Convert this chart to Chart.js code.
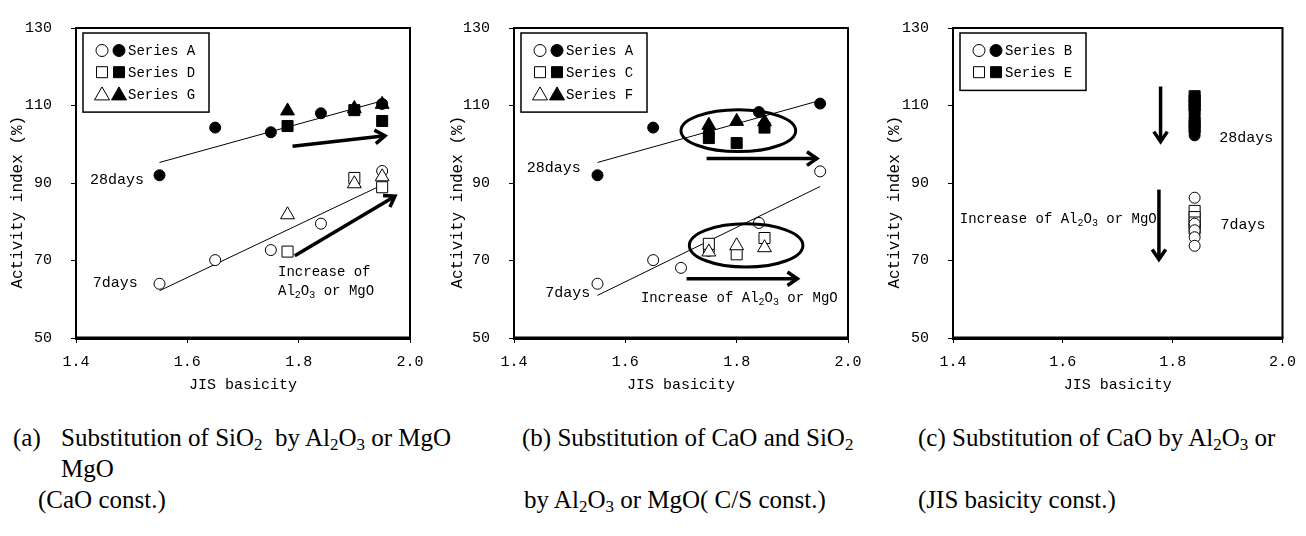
<!DOCTYPE html>
<html>
<head>
<meta charset="utf-8">
<script src="https://cdn.jsdelivr.net/npm/chart.js@4.4.1/dist/chart.umd.min.js"></script>
<style>
  body { margin: 0; background: #fff; }
  #page { position: relative; width: 1306px; height: 536px; overflow: hidden; background: #fff; }
  canvas { position: absolute; top: 0; }
  .cap { position: absolute; font-family: "Liberation Serif", serif; font-size: 25px; color: #000;
         white-space: pre; line-height: 31px; }
  .cap sub { font-size: 17px; vertical-align: -4px; line-height: 0; }
</style>
</head>
<body>
<div id="page">
  <canvas id="chartA" width="440" height="400" style="left:0px"></canvas>
  <canvas id="chartB" width="440" height="400" style="left:440px"></canvas>
  <canvas id="chartC" width="429" height="400" style="left:877px"></canvas>

  <div class="cap" style="left:13px;top:422px">(a)</div>
  <div class="cap" style="left:61px;top:422px">Substitution of SiO<sub>2</sub>  by Al<sub>2</sub>O<sub>3</sub> or MgO</div>
  <div class="cap" style="left:61px;top:453px">MgO</div>
  <div class="cap" style="left:38px;top:484px">(CaO const.)</div>

  <div class="cap" style="left:522px;top:422px">(b) Substitution of CaO and SiO<sub>2</sub></div>
  <div class="cap" style="left:524px;top:484px">by Al<sub>2</sub>O<sub>3</sub> or MgO( C/S const.)</div>

  <div class="cap" style="left:918px;top:422px">(c) Substitution of CaO by Al<sub>2</sub>O<sub>3</sub> or</div>
  <div class="cap" style="left:918px;top:484px">(JIS basicity const.)</div>
</div>

<script>
// ---------- data ----------
// (a) substitution of SiO2
const aSeriesA_x   = [1.55, 1.65, 1.75, 1.84, 1.95];
const aSeriesA_7d  = [64.0, 70.1, 72.7, 79.5, 93.1];
const aSeriesA_28d = [92.0, 104.3, 103.1, 108.0, 110.4];
const aSeriesD_x   = [1.78, 1.90, 1.95];
const aSeriesD_7d  = [72.3, 91.3, 88.9];
const aSeriesD_28d = [104.7, 108.8, 106.0];
const aSeriesG_x   = [1.78, 1.90, 1.95];
const aSeriesG_7d  = [81.8, 89.8, 91.6];
const aSeriesG_28d = [108.6, 109.2, 110.3];
const aTrendX   = [1.55, 1.95];
const aTrend7d  = [62.2, 89.5];
const aTrend28d = [95.3, 111.2];

// (b) substitution of CaO and SiO2
const bSeriesA_x   = [1.55, 1.65, 1.70, 1.75, 1.84, 1.95];
const bSeriesA_7d  = [64.0, 70.1, 68.1, 72.5, 79.7, 93.0];
const bSeriesA_28d = [92.0, 104.3, null, 103.0, 108.3, 110.5];
const bSeriesC_x   = [1.75, 1.80, 1.85];
const bSeriesC_7d  = [74.3, 71.6, 75.8];
const bSeriesC_28d = [101.6, 100.3, 104.3];
const bSeriesF_x   = [1.75, 1.80, 1.85];
const bSeriesF_7d  = [72.2, 73.8, 73.3];
const bSeriesF_28d = [104.9, 105.9, 105.8];
const bTrendX   = [1.55, 1.95];
const bTrend7d  = [61.0, 89.1];
const bTrend28d = [95.3, 111.3];

// (c) substitution of CaO (basicity constant)
const cBasicity    = 1.84;
const cSeriesB_7d  = [86.2, 79.5, 77.8, 76.0, 73.8];
const cSeriesE_7d  = [82.8, 81.2, 79.8, 78.2];
const cSeriesB_28d = [107.0, 103.5, 102.3, 106.0];
const cSeriesE_28d = [112.4, 111.3, 110.0, 108.8, 105.5, 104.2];

// annotations (data coordinates)
const aLabels = [
  { t: '28days', x: 1.425, y: 90.0, size: 15 },
  { t: '7days', x: 1.43, y: 63.5, size: 15 },
  { t: 'Increase of', x: 1.763, y: 66.2, size: 14 },
  { t: 'Al_2O_3 or MgO', x: 1.763, y: 61.2, size: 14 }
];
const bLabels = [
  { t: '28days', x: 1.423, y: 93.1, size: 15 },
  { t: '7days', x: 1.456, y: 60.8, size: 15 },
  { t: 'Increase of Al_2O_3 or MgO', x: 1.628, y: 59.4, size: 14 }
];
const cLabels = [
  { t: '28days', x: 1.885, y: 100.8, size: 15 },
  { t: '7days', x: 1.887, y: 78.5, size: 15 },
  { t: 'Increase of Al_2O_3 or MgO', x: 1.4125, y: 79.8, size: 14 }
];
const aArrows = [[1.789, 99.5, 1.955, 102.2], [1.793, 71.2, 1.973, 86.6]];
const bArrows = [[1.746, 96.3, 1.944, 96.3], [1.71, 65.3, 1.909, 65.3]];
const cArrows = [[1.778, 114.9, 1.778, 100.7], [1.775, 88.3, 1.775, 70.3]];
const bEllipses = [[1.803, 103.5, 0.103, 5.4], [1.817, 73.9, 0.102, 5.6]];

const aLegend = [['circle', 'Series A'], ['rect', 'Series D'], ['triangle', 'Series G']];
const bLegend = [['circle', 'Series A'], ['rect', 'Series C'], ['triangle', 'Series F']];
const cLegend = [['circle', 'Series B'], ['rect', 'Series E']];

const FONT = '"Liberation Mono", monospace';

function pts(xs, ys) {
  const xv = Array.isArray(xs) ? xs : ys.map(() => xs);
  return ys.map((y, i) => ({ x: xv[i], y: y }));
}

function marks(label, style, xs, ys, filled) {
  const r = style === 'circle' ? 5.5 : (style === 'rect' ? 7.8 : 8);
  return {
    label: label, data: pts(xs, ys), pointStyle: style, pointRadius: r,
    backgroundColor: filled ? '#000' : '#fff', borderColor: '#000',
    pointBorderWidth: 1, showLine: false, order: 1
  };
}

function trend(xs, ys) {
  return {
    label: 'trend', data: pts(xs, ys), showLine: true, pointRadius: 0,
    borderColor: '#000', borderWidth: 1, order: 2
  };
}

function drawRich(ctx, str, x, y, size) {
  // "_3" marks a subscript digit
  let cx = x;
  y -= 3;
  str.split(/(_\d)/).forEach(p => {
    if (!p) return;
    if (p[0] === '_') {
      ctx.font = Math.round(size * 0.72) + 'px ' + FONT;
      ctx.fillText(p[1], cx, y + 4);
      cx += ctx.measureText(p[1]).width;
    } else {
      ctx.font = size + 'px ' + FONT;
      ctx.fillText(p, cx, y);
      cx += ctx.measureText(p).width;
    }
  });
}

function legendMark(ctx, style, x, y, filled) {
  ctx.beginPath();
  if (style === 'circle') ctx.arc(x, y, 6, 0, Math.PI * 2);
  else if (style === 'rect') ctx.rect(x - 5.5, y - 5.5, 11, 11);
  else { ctx.moveTo(x, y - 7); ctx.lineTo(x + 7.5, y + 6); ctx.lineTo(x - 7.5, y + 6); ctx.closePath(); }
  ctx.fillStyle = filled ? '#000' : '#fff';
  ctx.fill();
  ctx.lineWidth = 1;
  ctx.strokeStyle = '#000';
  ctx.stroke();
}

// frame, arrows, ellipses, notes and legend box
const extras = {
  id: 'extras',
  afterDraw(chart, args, opts) {
    const ctx = chart.ctx, a = chart.chartArea;
    const xs = chart.scales.x, ys = chart.scales.y;
    ctx.save();
    ctx.strokeStyle = '#000';
    ctx.lineWidth = 2;
    ctx.beginPath();
    ctx.moveTo(a.left, a.top); ctx.lineTo(a.right, a.top); ctx.lineTo(a.right, a.bottom);
    ctx.stroke();
    ctx.lineWidth = 3;
    ctx.beginPath(); ctx.moveTo(a.left, a.bottom); ctx.lineTo(a.right + 1, a.bottom); ctx.stroke();

    (opts.ellipses || []).forEach(e => {
      const cx = xs.getPixelForValue(e[0]), cy = ys.getPixelForValue(e[1]);
      const rx = Math.abs(xs.getPixelForValue(e[0] + e[2]) - cx);
      const ry = Math.abs(ys.getPixelForValue(e[1] + e[3]) - cy);
      ctx.lineWidth = 3;
      ctx.beginPath(); ctx.ellipse(cx, cy, rx, ry, 0, 0, Math.PI * 2); ctx.stroke();
    });

    (opts.arrows || []).forEach(ar => {
      const x1 = xs.getPixelForValue(ar[0]), y1 = ys.getPixelForValue(ar[1]);
      const x2 = xs.getPixelForValue(ar[2]), y2 = ys.getPixelForValue(ar[3]);
      const ang = Math.atan2(y2 - y1, x2 - x1), h = 12;
      ctx.lineWidth = 3.5;
      ctx.lineCap = 'butt';
      ctx.beginPath(); ctx.moveTo(x1, y1); ctx.lineTo(x2, y2); ctx.stroke();
      ctx.beginPath();
      ctx.moveTo(x2 - h * Math.cos(ang - 0.6), y2 - h * Math.sin(ang - 0.6));
      ctx.lineTo(x2, y2);
      ctx.lineTo(x2 - h * Math.cos(ang + 0.6), y2 - h * Math.sin(ang + 0.6));
      ctx.stroke();
    });

    ctx.fillStyle = '#000';
    ctx.textBaseline = 'middle';
    ctx.textAlign = 'left';
    (opts.labels || []).forEach(l => {
      drawRich(ctx, l.t, xs.getPixelForValue(l.x), ys.getPixelForValue(l.y), l.size);
    });

    const lg = opts.legend;
    if (lg) {
      const bx = a.left + 7, by = a.top + 5, bw = 126, bh = 22 + lg.items.length * 21.7 - 8;
      ctx.fillStyle = '#fff';
      ctx.fillRect(bx, by, bw, bh);
      ctx.lineWidth = 1.5;
      ctx.strokeRect(bx, by, bw, bh);
      lg.items.forEach((it, i) => {
        const yy = by + 17.5 + i * 21.7;
        legendMark(ctx, it[0], bx + 19, yy, false);
        legendMark(ctx, it[0], bx + 36, yy, true);
        ctx.fillStyle = '#000';
        ctx.font = '14px ' + FONT;
        ctx.textAlign = 'left';
        ctx.fillText(it[1], bx + 45, yy + 1);
      });
    }
    ctx.restore();
  }
};

function makeChart(id, yWidth, padRight, datasets, extraOpts) {
  return new Chart(document.getElementById(id), {
    type: 'scatter',
    data: { datasets: datasets },
    options: {
      responsive: false,
      animation: false,
      layout: { padding: { top: 18, right: padRight, bottom: 0, left: 0 } },
      plugins: { legend: { display: false }, tooltip: { enabled: false }, extras: extraOpts },
      scales: {
        x: {
          type: 'linear', min: 1.4, max: 2.0,
          afterFit: s => { s.height = 62; },
          ticks: { stepSize: 0.2, padding: 10, color: '#000', font: { family: FONT, size: 15 },
                   callback: v => v.toFixed(1) },
          grid: { display: true, drawOnChartArea: false, drawTicks: true, tickLength: 5, color: '#000' },
          border: { display: true, color: '#000', width: 3 },
          title: { display: true, text: 'JIS basicity', color: '#000',
                   font: { family: FONT, size: 15 }, padding: { top: 0, bottom: 6 } }
        },
        y: {
          type: 'linear', min: 50, max: 130,
          afterFit: s => { s.width = yWidth; },
          ticks: { stepSize: 20, padding: 19, color: '#000', font: { family: FONT, size: 15 } },
          grid: { display: true, drawOnChartArea: false, drawTicks: true, tickLength: 5, color: '#000' },
          border: { display: true, color: '#000', width: 2 },
          title: { display: true, text: 'Activity index (%)    ', color: '#000',
                   font: { family: FONT, size: 16 }, padding: { top: 8, bottom: 0 } }
        }
      }
    },
    plugins: [extras]
  });
}

makeChart('chartA', 76, 30, [
  marks('G 28d', 'triangle', aSeriesG_x, aSeriesG_28d, true),
  marks('D 28d', 'rect', aSeriesD_x, aSeriesD_28d, true),
  marks('A 28d', 'circle', aSeriesA_x, aSeriesA_28d, true),
  marks('G 7d', 'triangle', aSeriesG_x, aSeriesG_7d, false),
  marks('D 7d', 'rect', aSeriesD_x, aSeriesD_7d, false),
  marks('A 7d', 'circle', aSeriesA_x, aSeriesA_7d, false),
  trend(aTrendX, aTrend28d),
  trend(aTrendX, aTrend7d)
], { labels: aLabels, arrows: aArrows, legend: { items: aLegend } });

makeChart('chartB', 74, 32, [
  marks('F 28d', 'triangle', bSeriesF_x, bSeriesF_28d, true),
  marks('C 28d', 'rect', bSeriesC_x, bSeriesC_28d, true),
  marks('A 28d', 'circle', bSeriesA_x, bSeriesA_28d, true),
  marks('F 7d', 'triangle', bSeriesF_x, bSeriesF_7d, false),
  marks('C 7d', 'rect', bSeriesC_x, bSeriesC_7d, false),
  marks('A 7d', 'circle', bSeriesA_x, bSeriesA_7d, false),
  trend(bTrendX, bTrend28d),
  trend(bTrendX, bTrend7d)
], { labels: bLabels, arrows: bArrows, ellipses: bEllipses, legend: { items: bLegend } });

makeChart('chartC', 76, 19, [
  marks('B 28d', 'circle', cBasicity, cSeriesB_28d, true),
  marks('E 28d', 'rect', cBasicity, cSeriesE_28d, true),
  marks('B 7d', 'circle', cBasicity, cSeriesB_7d, false),
  marks('E 7d', 'rect', cBasicity, cSeriesE_7d, false)
], { labels: cLabels, arrows: cArrows, legend: { items: cLegend } });
</script>
</body>
</html>
